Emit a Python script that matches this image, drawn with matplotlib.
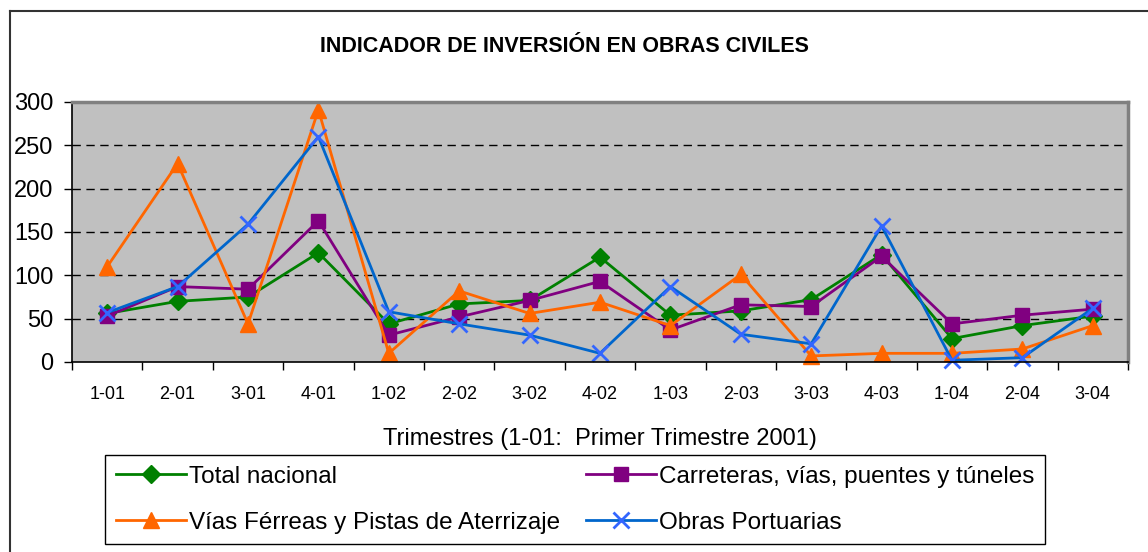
import numpy as np
import matplotlib
matplotlib.use("Agg")
import matplotlib.pyplot as plt
from matplotlib.lines import Line2D
from matplotlib.ticker import FixedLocator

plt.rcParams['font.family'] = ['Liberation Sans', 'DejaVu Sans']

trimestres = ['1-01', '2-01', '3-01', '4-01', '1-02', '2-02', '3-02', '4-02',
              '1-03', '2-03', '3-03', '4-03', '1-04', '2-04', '3-04']
total_nacional = [56, 70, 75, 126, 44, 67, 71, 121, 54, 59, 72, 124, 27, 42, 53]
carreteras = [53, 87, 84, 163, 31, 52, 71, 93, 37, 66, 64, 122, 44, 54, 61]
vias_ferreas = [110, 229, 44, 291, 10, 82, 56, 69, 42, 101, 7, 10, 10, 15, 42]
obras_portuarias = [57, 87, 159, 260, 58, 44, 31, 10, 87, 32, 21, 157, 2, 5, 62]

W, H = 1148, 552
fig = plt.figure(figsize=(W / 100, H / 100), dpi=100)
ax = fig.add_axes([72 / W, 1 - 362 / H, (1128 - 72) / W, (362 - 102) / H])
ax.set_facecolor('#C0C0C0')

x = np.arange(len(trimestres))
l1, = ax.plot(x, total_nacional, color='#008000', lw=2, marker='D', ms=9,
              label='Total nacional', clip_on=False)
l2, = ax.plot(x, carreteras, color='#800080', lw=2, marker='s', ms=10,
              label='Carreteras, vías, puentes y túneles', clip_on=False)
l3, = ax.plot(x, vias_ferreas, color='#FF6600', lw=2, marker='^', ms=12,
              label='Vías Férreas y Pistas de Aterrizaje', clip_on=False)
l4, = ax.plot(x, obras_portuarias, color='#0066CC', lw=2, marker='x', ms=11,
              mew=2, mec='#3366FF', label='Obras Portuarias', clip_on=False)

ax.set_xlim(-0.5, len(trimestres) - 0.5)
ax.set_ylim(0, 300)
ax.set_yticks(range(0, 301, 50))
ax.set_xticks(x)
ax.set_xticklabels(trimestres, fontsize=13)
ax.xaxis.set_minor_locator(FixedLocator(np.arange(-0.5, len(trimestres), 1)))
ax.tick_params(axis='x', which='major', length=0, pad=17)
ax.tick_params(axis='x', which='minor', length=6, width=1, color='black')
ax.tick_params(axis='y', length=6, width=1, labelsize=17, pad=7.5)
for v in range(50, 300, 50):
    ax.axhline(v, color='black', lw=1, ls=(0, (6, 4)), zorder=0.5)

for s in ['left', 'bottom']:
    ax.spines[s].set_color('black')
    ax.spines[s].set_linewidth(1.2)
for s in ['top', 'right']:
    ax.spines[s].set_color('#808080')
    ax.spines[s].set_linewidth(2.5)

ax.set_xlabel('Trimestres (1-01:  Primer Trimestre 2001)', fontsize=17, labelpad=18)
fig.text(564 / W, 1 - 47 / H, 'INDICADOR DE INVERSIÓN EN OBRAS CIVILES',
         ha='center', va='center', fontsize=15.5, fontweight='bold')

leg = fig.legend([l1, l3, l2, l4],
                 [l1.get_label(), l3.get_label(), l2.get_label(), l4.get_label()],
                 ncol=2, loc='upper left',
                 bbox_to_anchor=(105 / W, 1 - 455 / H - 0.01, (1045 - 105) / W, 0.01),
                 mode='expand', fontsize=17.5, frameon=True, fancybox=False,
                 edgecolor='black', framealpha=1, handlelength=2.9,
                 handletextpad=0.1, labelspacing=0.97, borderpad=0.45,
                 borderaxespad=0)
leg.get_frame().set_linewidth(1)

# outer chart border
fig.add_artist(Line2D([9.5 / W, 9.5 / W], [0, 1 - 11 / H], color='#333333',
                      lw=1.5, transform=fig.transFigure))
fig.add_artist(Line2D([9.5 / W, 1], [1 - 11 / H, 1 - 11 / H], color='#333333',
                      lw=1.5, transform=fig.transFigure))

fig.savefig('out.png', dpi=100)
